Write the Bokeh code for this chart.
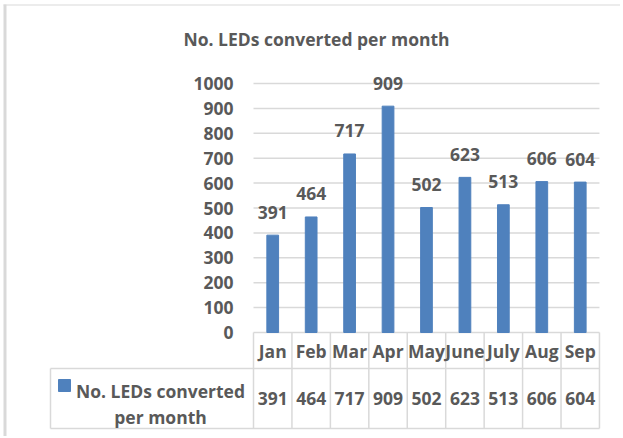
from bokeh.plotting import figure
from bokeh.models import Range1d, ColumnDataSource
from bokeh.embed import file_html
from bokeh.resources import INLINE
from bokeh.core.properties import value

# ---------------- data ----------------
title_text = "No. LEDs converted per month"
series_name = "No. LEDs converted per month"
months = ["Jan", "Feb", "Mar", "Apr", "May", "June", "July", "Aug", "Sep"]
counts = [391, 464, 717, 909, 502, 623, 513, 606, 604]
y_ticks = [0, 100, 200, 300, 400, 500, 600, 700, 800, 900, 1000]
y_tick_labels = ["0", "100", "200", "300", "400", "500", "600", "700", "800", "900", "1000"]
legend_lines = ["No. LEDs converted", "per month"]

# ---------------- layout constants ----------------
W, H = 620, 436            # figure size
COL_PX = 38.44             # width of one month column in px
PX_PER_UNIT = 0.249        # vertical px per data unit
FIRST_EDGE = 253           # figure px of first column's left edge
ZERO_Y = 332               # figure px (from top) of value 0

BAR_COLOR = "#4f81bd"
TEXT_COLOR = "#595959"
LINE_COLOR = "#d9d9d9"
FONT = value("Open Sans")
FS = "17.5px"

x_start = -0.5 - FIRST_EDGE / COL_PX
y_start = -(H - ZERO_Y) / PX_PER_UNIT

p = figure(width=W, height=H, output_backend="svg", toolbar_location=None,
           x_range=Range1d(x_start, x_start + W / COL_PX),
           y_range=Range1d(y_start, y_start + H / PX_PER_UNIT),
           x_axis_location=None, y_axis_location=None, min_border=0,
           outline_line_color=None, background_fill_color="white",
           border_fill_color="white")
p.grid.visible = False
# pixel ranges for layout decorations
p.extra_x_ranges = {"px": Range1d(0, W)}
p.extra_y_ranges = {"px": Range1d(H, 0)}

idx = list(range(len(months)))
n = len(months)
edges = [i - 0.5 for i in range(n + 1)]

def txt(**kw):
    base = dict(text_font=FONT, text_font_style="bold", text_font_size=FS,
                text_color=TEXT_COLOR, text_align="center", text_baseline="middle")
    base.update(kw)
    return base

# chart border (left and top)
p.segment(x0=[4.5, 3], y0=[4, 4.5], x1=[4.5, W], y1=[H, 4.5],
          line_color=LINE_COLOR, line_width=[3, 1.2], x_range_name="px", y_range_name="px")

# title
p.text(x=[316], y=[38], text=[title_text], x_range_name="px", y_range_name="px", **txt())

# gridlines (0 line doubles as table top)
p.segment(x0=[-0.5] * len(y_ticks), x1=[n - 0.5] * len(y_ticks), y0=y_ticks, y1=y_ticks,
          line_color=LINE_COLOR, line_width=1.5)

# y tick labels
p.text(x=[-0.5] * len(y_ticks), y=y_ticks, text=y_tick_labels, x_offset=-20,
       **txt(text_align="right"))

# bars
src = ColumnDataSource(dict(x=idx, top=counts, lab=[str(c) for c in counts]))
p.vbar(x="x", top="top", width=0.305, color=BAR_COLOR, source=src)
p.text(x="x", y="top", text="lab", y_offset=-23, source=src, **txt())

# data table: vertical column lines
p.segment(x0=edges, x1=edges, y0=[332] * len(edges), y1=[428] * len(edges),
          line_color=LINE_COLOR, line_width=1.5, y_range_name="px")
# row divider and bottom lines (incl. legend cell)
p.segment(x0=[50, 50], x1=[599, 599], y0=[368, 428], y1=[368, 428],
          line_color=LINE_COLOR, line_width=1.5, x_range_name="px", y_range_name="px")
p.segment(x0=[50], x1=[50], y0=[368], y1=[428],
          line_color=LINE_COLOR, line_width=1.5, x_range_name="px", y_range_name="px")

# table text
p.text(x=idx, y=[350.5] * n, text=months, y_range_name="px", **txt())
p.text(x=idx, y=[398] * n, text=[str(c) for c in counts], y_range_name="px", **txt())

# legend key + series name
p.scatter(x=[64], y=[385], marker="square", size=12, color=BAR_COLOR,
          x_range_name="px", y_range_name="px")
p.text(x=[160, 160], y=[390.7, 416.7], text=legend_lines, x_range_name="px", y_range_name="px",
       **txt(text_baseline="alphabetic"))

open("out.html", "w").write(file_html(p, INLINE))
